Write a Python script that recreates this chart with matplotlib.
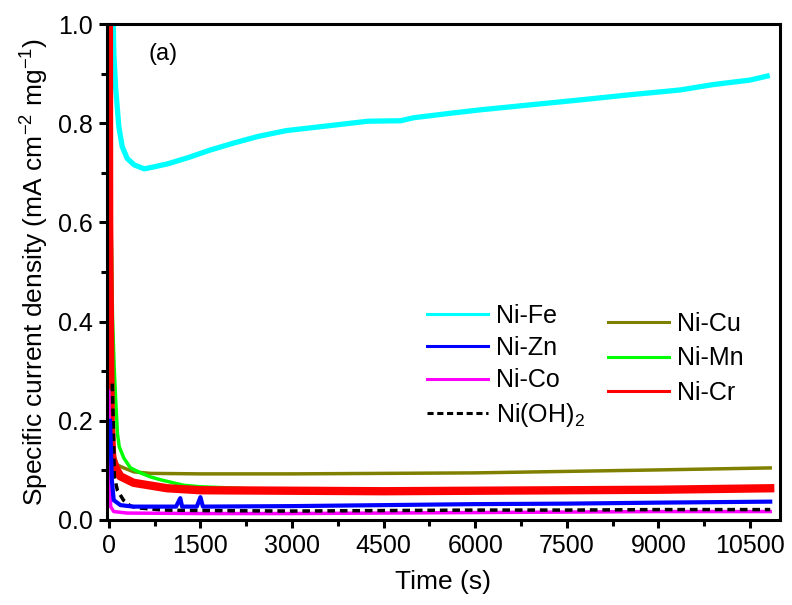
import matplotlib
matplotlib.use("Agg")
import matplotlib.pyplot as plt
from matplotlib.lines import Line2D

plt.rcParams['font.family'] = ['Liberation Sans', 'DejaVu Sans']
plt.rcParams['mathtext.fontset'] = 'custom'
plt.rcParams['mathtext.rm'] = 'Liberation Sans'

# values (time in s, current in mA cm-2 mg-1)
t_fe = [50, 72, 82, 110, 164, 219, 300, 415, 578, 740, 960, 1283, 1663, 2045, 2432, 2900, 3680, 4240,
        4780, 4990, 5590, 6085, 6900, 7720, 8500, 9355, 9900, 10500, 10780]
ni_fe = [1.02, 1.0, 0.94, 0.874, 0.793, 0.753, 0.729, 0.716, 0.708, 0.712, 0.718, 0.73, 0.746, 0.76, 0.773,
         0.785, 0.796, 0.804, 0.805, 0.811, 0.82, 0.827, 0.837, 0.847, 0.857, 0.867, 0.878, 0.887, 0.895]

t_cu = [10, 40, 60, 100, 137, 245, 410, 680, 1500, 3000, 4500, 6000, 7500, 9000, 10830]
ni_cu = [0.32, 0.2, 0.15, 0.125, 0.111, 0.105, 0.097, 0.094, 0.093, 0.093, 0.094, 0.095, 0.098, 0.101, 0.105]

t_mn = [40, 60, 90, 115, 140, 170, 245, 355, 520, 680, 850, 1225, 1500, 2500, 4000, 6000, 8000, 10830]
ni_mn = [0.575, 0.41, 0.30, 0.235, 0.175, 0.148, 0.125, 0.105, 0.095, 0.087, 0.081, 0.07, 0.067, 0.062, 0.06, 0.06, 0.06, 0.06]

t_cr = [0, 5, 30, 55, 110, 190, 405, 955, 1500, 3000, 4500, 6000, 7500, 9000, 10830]
ni_cr = [1.05, 0.6, 0.2, 0.125, 0.105, 0.088, 0.075, 0.064, 0.06, 0.059, 0.058, 0.059, 0.06, 0.061, 0.064]

t_zn = [20, 50, 80, 190, 400, 1100, 1170, 1200, 1440, 1500, 1540, 3000, 4500, 6000, 7500, 9000, 10830]
ni_zn = [0.2, 0.08, 0.04, 0.03, 0.027, 0.027, 0.044, 0.027, 0.027, 0.046, 0.027, 0.028, 0.03, 0.032, 0.033, 0.035, 0.037]

t_co = [0, 15, 30, 80, 300, 1500, 3000, 4500, 6000, 7500, 9000, 10830]
ni_co = [0.26, 0.1, 0.027, 0.017, 0.014, 0.013, 0.013, 0.014, 0.015, 0.016, 0.017, 0.017]

t_oh = [55, 72, 90, 140, 240, 355, 520, 900, 1500, 3000, 4500, 6000, 7500, 9000, 10830]
ni_oh = [0.275, 0.2, 0.087, 0.06, 0.04, 0.028, 0.024, 0.02, 0.019, 0.018, 0.019, 0.02, 0.02, 0.021, 0.021]

fig = plt.figure(figsize=(7.92, 6.05), dpi=100)
ax = fig.add_axes([0.1351, 0.1405, 0.8497, 0.8198])

ax.plot(t_fe, ni_fe, color='#00FFFF', lw=3.8)
ax.plot(t_cu, ni_cu, color='#808000', lw=2.5)
ax.plot(t_mn, ni_mn, color='#00FF00', lw=2.5)
ax.plot(t_cr, ni_cr, color='#FF0000', lw=6)
ax.plot(t_co, ni_co, color='#FF00FF', lw=2.5)
ax.plot(t_oh, ni_oh, color='black', lw=2.5, ls=(0, (2.2, 1.4)))
ax.plot(t_zn, ni_zn, color='#0000FF', lw=3)

ax.set_xlim(-30, 10990)
ax.set_ylim(0, 1.0)
ax.set_xticks(range(0, 10501, 1500))
ax.set_xticks(range(750, 10990, 1500), minor=True)
ax.set_yticks([0.0, 0.2, 0.4, 0.6, 0.8, 1.0])
ax.set_yticks([0.1, 0.3, 0.5, 0.7, 0.9], minor=True)
ax.set_yticklabels(['0.0', '0.2', '0.4', '0.6', '0.8', '1.0'])
ax.tick_params(which='both', direction='out', width=2.2, labelsize=18)
ax.tick_params(which='major', length=6, pad=4)
ax.tick_params(which='minor', length=4)
for s in ax.spines.values():
    s.set_linewidth(2.2)

ax.set_xlabel('Time (s)', fontsize=19, labelpad=9)
ax.set_ylabel('Specific current density (mA cm$^{-2}$ mg$^{-1}$)', fontsize=19, labelpad=6)
ax.text(0.061, 0.94, '(a)', transform=ax.transAxes, fontsize=17, va='center')

h1 = [Line2D([], [], color='#00FFFF', lw=2.2),
      Line2D([], [], color='#0000FF', lw=2.2),
      Line2D([], [], color='#FF00FF', lw=2.2),
      Line2D([], [], color='black', lw=2.2, ls=(0, (2, 1.2)))]
l1 = ['Ni-Fe', 'Ni-Zn', 'Ni-Co', 'Ni(OH)$_2$']
h2 = [Line2D([], [], color='#808000', lw=2.2),
      Line2D([], [], color='#00FF00', lw=2.2),
      Line2D([], [], color='#FF0000', lw=2.2)]
l2 = ['Ni-Cu', 'Ni-Mn', 'Ni-Cr']

kw = dict(frameon=False, fontsize=18, handlelength=2.45, handletextpad=0.3,
          borderpad=0, borderaxespad=0, loc='upper left')
leg1 = ax.legend(h1, l1, bbox_to_anchor=(0.4755, 0.4355), labelspacing=0.33, **kw)
ax.add_artist(leg1)
ax.legend(h2, l2, bbox_to_anchor=(0.7444, 0.4194), labelspacing=0.42, **kw)

fig.savefig('out.png', dpi=100)
